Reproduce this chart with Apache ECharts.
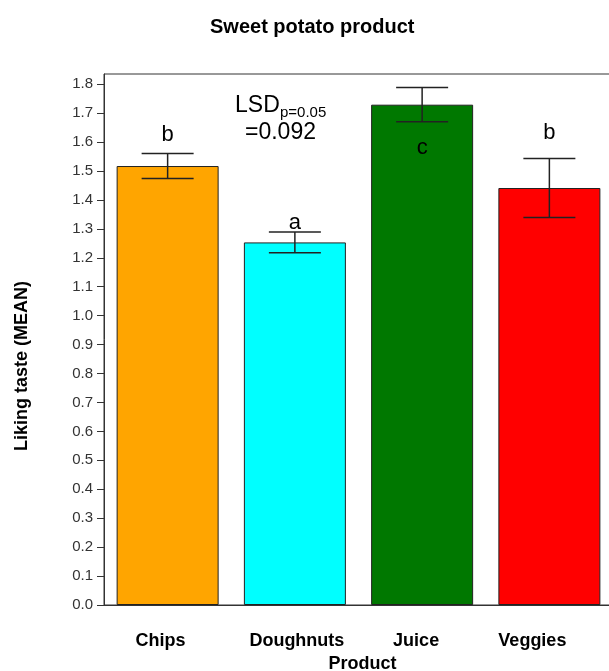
<!DOCTYPE html>
<html>
<head>
<meta charset="utf-8">
<script src="https://cdn.jsdelivr.net/npm/echarts@6/dist/echarts.min.js"></script>
<style>
html,body{margin:0;padding:0;background:#fff;}
#chart{width:609px;height:671px;}
</style>
</head>
<body>
<div id="chart"></div>
<script>
const categories = ['Chips', 'Doughnuts', 'Juice', 'Veggies'];
const means = [1.517, 1.253, 1.729, 1.441];
const errors = [0.043, 0.036, 0.059, 0.102];
const letters = ['b', 'a', 'c', 'b'];
const letterY = [1.624, 1.32, 1.581, 1.632];
const barColors = ['#FFA500', '#00FFFF', '#007800', '#FF0000'];
const yTicks = [0, 0.1, 0.2, 0.3, 0.4, 0.5, 0.6, 0.7, 0.8, 0.9, 1.0, 1.1, 1.2, 1.3, 1.4, 1.5, 1.6, 1.7, 1.8];
const labelShift = [[0, 14, 0, 0], [0, 0, 0, 4], [0, 12, 0, 0], [0, 34, 0, 0]];

const FONT = "'Liberation Sans', Arial, sans-serif";
const chart = echarts.init(document.getElementById('chart'), null, {renderer: 'canvas'});

const option = {
  backgroundColor: '#ffffff',
  animation: false,
  title: {
    text: 'Sweet potato product',
    left: 205, top: 12,
    textStyle: {fontFamily: FONT, fontSize: 20, fontWeight: 'bold', color: '#000'}
  },
  grid: {
    left: 104, right: -4, top: 74, bottom: 66,
    show: true, borderColor: '#333', borderWidth: 1,
    containLabel: false, outerBoundsMode: 'none'
  },
  xAxis: {
    type: 'category',
    data: categories.map((c, i) => ({value: c, textStyle: {padding: labelShift[i]}})),
    name: 'Product',
    nameLocation: 'middle',
    nameGap: 49,
    nameTextStyle: {fontFamily: FONT, fontSize: 18, fontWeight: 'bold', color: '#000', padding: [0, 0, 0, 8]},
    axisLine: {show: true, lineStyle: {color: '#333', width: 1}},
    axisTick: {show: false},
    axisLabel: {fontFamily: FONT, fontSize: 18, fontWeight: 'bold', color: '#000', margin: 27}
  },
  yAxis: {
    type: 'value',
    min: 0, max: 1.835, interval: 0.1,
    splitLine: {show: false},
    axisLine: {show: true, lineStyle: {color: '#333', width: 1}},
    axisTick: {show: true, length: 7, lineStyle: {color: '#333'}, customValues: yTicks},
    axisLabel: {
      fontFamily: FONT, fontSize: 15, color: '#333', margin: 11,
      customValues: yTicks,
      formatter: v => Number(v).toFixed(1)
    }
  },
  graphic: [
    {type: 'text', x: 22, y: 366, rotation: Math.PI / 2,
     style: {text: 'Liking taste (MEAN)', font: "bold 18px " + FONT, fill: '#000', align: 'center', verticalAlign: 'middle'}},
    {type: 'text', x: 235, y: 106,
     style: {text: 'LSD', font: "23px " + FONT, fill: '#000', align: 'left', verticalAlign: 'middle'}},
    {type: 'text', x: 280, y: 113,
     style: {text: 'p=0.05', font: "15px " + FONT, fill: '#000', align: 'left', verticalAlign: 'middle'}},
    {type: 'text', x: 245, y: 133,
     style: {text: '=0.092', font: "23px " + FONT, fill: '#000', align: 'left', verticalAlign: 'middle'}}
  ],
  series: [
    {
      type: 'bar',
      barWidth: 102,
      data: means.map((v, i) => ({value: v, itemStyle: {color: barColors[i], borderColor: '#222', borderWidth: 1}})),
      z: 2
    },
    {
      type: 'custom',
      z: 5,
      data: categories.map((c, i) => [i, means[i], errors[i], letterY[i]]),
      renderItem: function (params, api) {
        const i = api.value(0);
        const m = api.value(1);
        const e = api.value(2);
        const top = api.coord([i, m + e]);
        const bot = api.coord([i, m - e]);
        const lp = api.coord([i, api.value(3)]);
        const hw = 26;
        const ls = {stroke: '#222', lineWidth: 1.5};
        return {
          type: 'group',
          children: [
            {type: 'line', shape: {x1: top[0], y1: top[1], x2: bot[0], y2: bot[1]}, style: ls},
            {type: 'line', shape: {x1: top[0] - hw, y1: top[1], x2: top[0] + hw, y2: top[1]}, style: ls},
            {type: 'line', shape: {x1: bot[0] - hw, y1: bot[1], x2: bot[0] + hw, y2: bot[1]}, style: ls},
            {type: 'text', x: lp[0], y: lp[1],
             style: {text: letters[params.dataIndex], font: "22px " + FONT, fill: '#000', align: 'center', verticalAlign: 'middle'}}
          ]
        };
      }
    }
  ]
};
chart.setOption(option);
</script>
</body>
</html>
